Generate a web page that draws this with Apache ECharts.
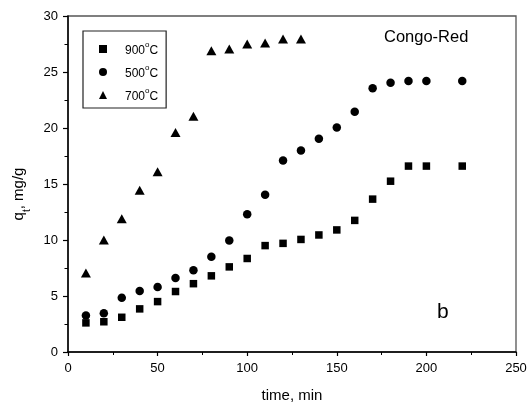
<!DOCTYPE html>
<html>
<head>
<meta charset="utf-8">
<script src="https://cdn.jsdelivr.net/npm/echarts@6/dist/echarts.min.js"></script>
<style>html,body{margin:0;padding:0;background:#fff}#c{width:531px;height:403px}</style>
</head>
<body>
<div id="c"></div>
<script>
var time = [10, 20, 30, 40, 50, 60, 70, 80, 90, 100, 110, 120, 130, 140, 150, 160, 170, 180, 190, 200, 220];
var q900 = [2.6, 2.7, 3.1, 3.85, 4.5, 5.4, 6.1, 6.8, 7.6, 8.35, 9.5, 9.7, 10.05, 10.45, 10.9, 11.75, 13.65, 15.25, 16.6, 16.6, 16.6];
var q500 = [3.25, 3.45, 4.85, 5.45, 5.8, 6.6, 7.3, 8.5, 9.95, 12.3, 14.05, 17.1, 18.0, 19.05, 20.05, 21.45, 23.55, 24.05, 24.2, 24.2, 24.2];
var time700 = [10, 20, 30, 40, 50, 60, 70, 80, 90, 100, 110, 120, 130];
var q700 = [7.05, 10.0, 11.9, 14.45, 16.1, 19.6, 21.05, 26.9, 27.05, 27.5, 27.6, 27.95, 27.95];
var seriesNames = ['900', '500', '700'];
var xTicks = {min: 0, max: 250, interval: 50};
var yTicks = {min: 0, max: 30, interval: 5};

function pairs(xs, ys) { return xs.map(function (x, i) { return [x, ys[i]]; }); }

var font = 'Liberation Sans, Arial, sans-serif';
var chart = echarts.init(document.getElementById('c'), null, {renderer: 'canvas'});
chart.setOption({
  animation: false,
  backgroundColor: '#fff',
  grid: {left: 68, top: 16, right: 15, bottom: 51, show: true, borderColor: '#555', borderWidth: 1.3, backgroundColor: 'transparent', containLabel: false, outerBoundsMode: 'none'},
  legend: {
    orient: 'vertical', left: 83, top: 31,
    borderColor: '#222', borderWidth: 1.2,
    padding: [10, 8, 5, 16], itemGap: 7,
    itemWidth: 8, itemHeight: 8,
    data: seriesNames,
    formatter: function (n) { return '{a|' + n + '}{s|o}{a|C}'; },
    textStyle: {
      padding: [0, 0, 0, 13],
      rich: {
        a: {fontFamily: font, fontSize: 12, color: '#000', verticalAlign: 'bottom', lineHeight: 16},
        s: {fontFamily: font, fontSize: 8, color: '#000', verticalAlign: 'top', lineHeight: 16, padding: [0, 0, 6, 0]}
      }
    }
  },
  xAxis: {
    type: 'value', min: xTicks.min, max: xTicks.max, interval: xTicks.interval,
    name: 'time, min', nameLocation: 'middle', nameGap: 36,
    nameTextStyle: {fontFamily: font, fontSize: 15, color: '#000'},
    axisLine: {show: true, lineStyle: {color: '#000', width: 1.5}},
    axisTick: {show: true, inside: false, length: 4, lineStyle: {color: '#000', width: 1.2}},
    minorTick: {show: true, splitNumber: 2, length: 3, lineStyle: {color: '#000', width: 1}},
    axisLabel: {fontFamily: font, fontSize: 13, color: '#000', margin: 10},
    splitLine: {show: false}
  },
  yAxis: {
    type: 'value', min: yTicks.min, max: yTicks.max, interval: yTicks.interval,
    name: 'q{sub|t}, mg/g', nameLocation: 'middle', nameGap: 28, nameRotate: 90,
    nameTextStyle: {fontFamily: font, fontSize: 15, color: '#000', padding: [0, 20, 0, 0],
      rich: {sub: {fontFamily: font, fontSize: 10, color: '#000', verticalAlign: 'bottom', padding: [0, 0, -6, 0]}}},
    axisLine: {show: true, lineStyle: {color: '#000', width: 1.5}},
    axisTick: {show: true, inside: false, length: 5, lineStyle: {color: '#000', width: 1.2}},
    minorTick: {show: true, splitNumber: 2, length: 3.5, lineStyle: {color: '#000', width: 1}},
    axisLabel: {fontFamily: font, fontSize: 13, color: '#000', margin: 10},
    splitLine: {show: false}
  },
  graphic: [
    {type: 'text', left: 384, top: 29, style: {text: 'Congo-Red', fontFamily: font, fontSize: 16.5, fill: '#000'}},
    {type: 'text', left: 437, top: 302, style: {text: 'b', fontFamily: font, fontSize: 21, fill: '#000'}}
  ],
  series: [
    {name: '900', type: 'scatter', symbol: 'rect', symbolSize: 7.5, itemStyle: {color: '#000', opacity: 1}, data: pairs(time, q900)},
    {name: '500', type: 'scatter', symbol: 'circle', symbolSize: 8.5, itemStyle: {color: '#000', opacity: 1}, data: pairs(time, q500)},
    {name: '700', type: 'scatter', symbol: 'triangle', symbolSize: [10, 9], itemStyle: {color: '#000', opacity: 1}, data: pairs(time700, q700)}
  ]
});
</script>
</body>
</html>
